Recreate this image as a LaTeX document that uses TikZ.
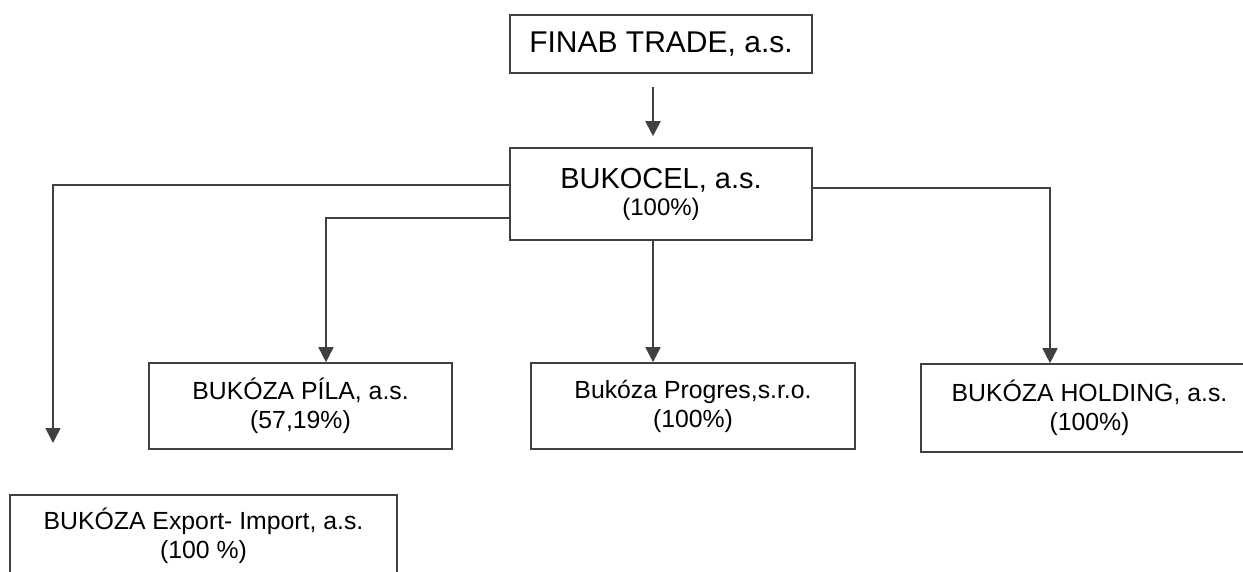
\documentclass[tikz,border=0pt]{standalone}
\usepackage{fontspec}
\setmainfont{Liberation Sans}
\usetikzlibrary{arrows.meta}

\begin{document}
\begin{tikzpicture}[x=0.5pt,y=-0.5pt,
  firm/.style={draw=black!75,line width=0.8pt,inner sep=0pt,align=center,
    font=\fontsize{12.4}{14.5}\selectfont},
  arr/.style={draw=black!75,line width=0.8pt,-{Triangle[width=7.5pt,length=7.5pt]}}]
\useasboundingbox (0,0) rectangle (1243,572);
\clip (0,0) rectangle (1243,572);
\node[firm,minimum width=151pt,minimum height=29pt,font=\fontsize{15}{18}\selectfont] (finab) at (661,44) {FINAB TRADE, a.s.};
\node[firm,minimum width=151pt,minimum height=46pt,font=\fontsize{14.5}{13.5}\selectfont] (bukocel) at (661,194) {BUKOCEL, a.s.\\{\fontsize{12}{13.5}\selectfont (100\%)}};
\node[firm,minimum width=151.5pt,minimum height=43pt] (pila) at (300.5,406) {BUKÓZA PÍLA, a.s.\\(57,19\%)};
\node[firm,minimum width=162pt,minimum height=43pt] (progres) at (693,406) {Bukóza Progres,s.r.o.\\(100\%)};
\node[firm,minimum width=168.5pt,minimum height=44pt] (holding) at (1089.5,408) {BUKÓZA HOLDING, a.s.\\(100\%)};
\node[firm,minimum width=193.5pt,minimum height=41pt] (export) at (203.5,536) {BUKÓZA Export- Import, a.s.\\(100 \%)};
\coordinate (expend) at (53,443);
\draw[arr,line width=1pt,shorten <=6.5pt,shorten >=5.5pt] ([xshift=-4pt]finab.south) -- ([xshift=-4pt]bukocel.north);
\draw[arr] ([yshift=4.5pt]bukocel.west) -| (expend);
\draw[arr] ([yshift=-12pt]bukocel.west) -| ([xshift=12.75pt]pila.north);
\draw[arr] ([xshift=-4pt]bukocel.south) -- ([xshift=-20pt]progres.north);
\draw[arr] ([yshift=3pt]bukocel.east) -| ([xshift=-19.75pt]holding.north);
\end{tikzpicture}
\end{document}
